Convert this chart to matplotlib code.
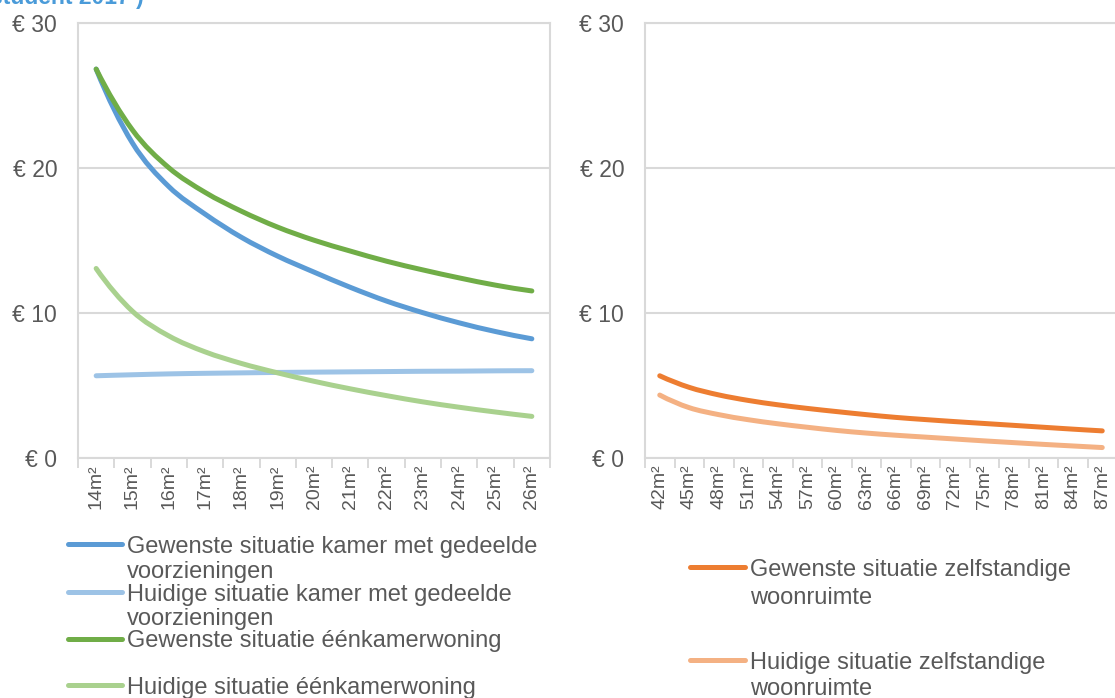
"""
Prijs per m2 naar kamergrootte: gewenste en huidige situatie.
"""

import numpy as np
import matplotlib.pyplot as plt
from matplotlib.lines import Line2D
from matplotlib.patches import PathPatch
from matplotlib.path import Path

plt.rcParams["font.family"] = ["Liberation Sans", "DejaVu Sans"]

# -------------------------
# Data
# -------------------------
sizes_kamer = ["14m²", "15m²", "16m²", "17m²", "18m²", "19m²", "20m²",
               "21m²", "22m²", "23m²", "24m²", "25m²", "26m²"]
kamer_gewenst = [26.8, 21.7, 18.7, 16.8, 15.2, 13.9, 12.8, 11.75, 10.8, 10.0, 9.3, 8.7, 8.2]
kamer_huidig = [5.65, 5.72, 5.78, 5.82, 5.85, 5.88, 5.90, 5.92, 5.94, 5.96, 5.97, 5.99, 6.0]
eenkamer_gewenst = [26.8, 22.6, 20.0, 18.3, 17.0, 15.9, 15.0, 14.25, 13.55, 12.95, 12.4, 11.9, 11.5]
eenkamer_huidig = [13.05, 10.1, 8.4, 7.3, 6.5, 5.85, 5.27, 4.75, 4.28, 3.85, 3.48, 3.15, 2.85]

sizes_zelfstandig = ["42m²", "45m²", "48m²", "51m²", "54m²", "57m²", "60m²", "63m²",
                     "66m²", "69m²", "72m²", "75m²", "78m²", "81m²", "84m²", "87m²"]
zelfstandig_gewenst = [5.65, 4.85, 4.33, 3.95, 3.65, 3.4, 3.18, 2.97,
                       2.78, 2.63, 2.49, 2.36, 2.23, 2.1, 1.97, 1.85]
zelfstandig_huidig = [4.32, 3.45, 2.97, 2.62, 2.34, 2.1, 1.88, 1.7,
                      1.55, 1.42, 1.29, 1.16, 1.04, 0.92, 0.81, 0.7]

y_ticks = [0, 10, 20, 30]

# -------------------------
# Style
# -------------------------
TEXT = "#595959"
GRID = "#D9D9D9"
TITLE = "#4A9BD9"
LW = 3.6

W, H = 1115, 698


def fx(px):
    return px / W


def fy(py):
    return 1 - py / H


def smooth_path(values):
    """Cubic Bezier through every category point (Catmull-Rom tangents,
    ghost end points extrapolated so the ends keep their curvature)."""
    pts = np.column_stack([np.arange(len(values), dtype=float),
                           np.asarray(values, dtype=float)])
    first = 3 * pts[0] - 3 * pts[1] + pts[2]
    last_ghost = 3 * pts[-1] - 3 * pts[-2] + pts[-3]
    ext = np.vstack([first, pts, last_ghost])
    verts = [pts[0]]
    codes = [Path.MOVETO]
    for i in range(1, len(ext) - 2):
        p0, p1, p2, p3 = ext[i - 1], ext[i], ext[i + 1], ext[i + 2]
        verts += [p1 + (p2 - p0) / 6, p2 - (p3 - p1) / 6, p2]
        codes += [Path.CURVE4] * 3
    return Path(verts, codes)


def draw_series(ax, values, color):
    ax.add_patch(PathPatch(smooth_path(values), fill=False, edgecolor=color,
                           lw=LW, capstyle="round", joinstyle="round", zorder=3))


def style_axes(ax, labels):
    n = len(labels)
    ax.set_xlim(-0.5, n - 0.5)
    ax.set_ylim(0, 30)
    ax.set_yticks(y_ticks)
    ax.set_yticklabels([f"€ {v}" for v in y_ticks])
    ax.set_xticks(range(n))
    ax.set_xticklabels(labels, rotation=90)
    ax.set_xticks(np.arange(n + 1) - 0.5, minor=True)
    ax.tick_params(axis="x", which="major", length=0, pad=5,
                   labelsize=14, labelcolor=TEXT)
    ax.tick_params(axis="x", which="minor", length=7, width=1.4, color=GRID)
    ax.tick_params(axis="y", length=0, pad=15, labelsize=16.5, labelcolor=TEXT)
    ax.grid(axis="y", color=GRID, lw=1.5)
    ax.set_axisbelow(True)
    for spine in ax.spines.values():
        spine.set_color(GRID)
        spine.set_linewidth(1.5)


def legend_entry(fig, x0, x1, y, label, color, line_gap):
    """Excel-style legend row: handle centred on the first text line."""
    fig.add_artist(Line2D([fx(x0), fx(x1)], [fy(y), fy(y)], color=color,
                          lw=LW, solid_capstyle="round",
                          transform=fig.transFigure))
    for k, line in enumerate(label.split("\n")):
        fig.text(fx(x1 + 5), fy(y + 9 + k * line_gap), line, fontsize=17,
                 color=TEXT, va="baseline", ha="left")


fig = plt.figure(figsize=(W / 100, H / 100), dpi=100)

ax_l = fig.add_axes([fx(78), fy(457.7), fx(472), 435 / H])
ax_r = fig.add_axes([fx(645), fy(457.7), fx(472), 435 / H])

style_axes(ax_l, sizes_kamer)
style_axes(ax_r, sizes_zelfstandig)

draw_series(ax_l, kamer_huidig, "#9DC3E6")
draw_series(ax_l, eenkamer_huidig, "#A9D18E")
draw_series(ax_l, kamer_gewenst, "#5B9BD5")
draw_series(ax_l, eenkamer_gewenst, "#70AD47")

draw_series(ax_r, zelfstandig_huidig, "#F4B183")
draw_series(ax_r, zelfstandig_gewenst, "#ED7D31")

# title text, mostly above the top edge
fig.text(fx(-10), fy(4), "student 2017 )", fontsize=16.5, fontweight="bold",
         color=TITLE, va="baseline", ha="left")

# legends
legend_entry(fig, 68, 122, 544, "Gewenste situatie kamer met gedeelde\nvoorzieningen",
             "#5B9BD5", 25)
legend_entry(fig, 68, 122, 591.5, "Huidige situatie kamer met gedeelde\nvoorzieningen",
             "#9DC3E6", 25)
legend_entry(fig, 68, 122, 638.5, "Gewenste situatie éénkamerwoning", "#70AD47", 25)
legend_entry(fig, 68, 122, 685, "Huidige situatie éénkamerwoning", "#A9D18E", 25)

legend_entry(fig, 690, 745, 567, "Gewenste situatie zelfstandige\nwoonruimte",
             "#ED7D31", 28)
legend_entry(fig, 690, 745, 660, "Huidige situatie zelfstandige\nwoonruimte",
             "#F4B183", 26)

fig.savefig("out.png", dpi=100, facecolor="white")
plt.close(fig)
